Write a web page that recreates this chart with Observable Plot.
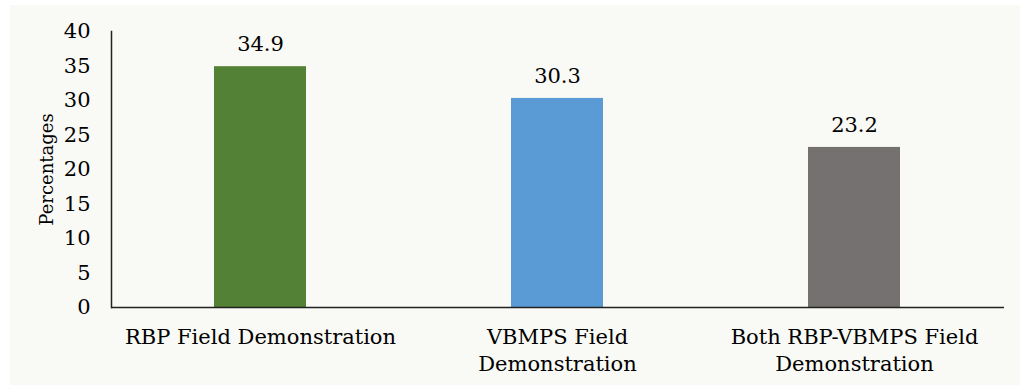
<!DOCTYPE html>
<html><head><meta charset="utf-8">
<script src="https://cdn.jsdelivr.net/npm/d3@7"></script>
<script src="https://cdn.jsdelivr.net/npm/@observablehq/plot@0.6"></script>
<style>
body{margin:0;background:#fff;}
#wrap{position:absolute;left:10px;top:5px;width:1010px;height:380px;background:#f9f9f5;}
#wrap svg, #wrap svg text{font-family:"DejaVu Serif", serif !important;}
#wrap svg{background:transparent;}
</style></head><body><div id="wrap"></div>
<script>
const categories = ["RBP Field Demonstration","VBMPS Field Demonstration","Both RBP-VBMPS Field Demonstration"];
const tickLabels = ["RBP Field Demonstration","VBMPS Field\nDemonstration","Both RBP-VBMPS Field\nDemonstration"];
const values = [34.9, 30.3, 23.2];
const colors = ["#538135","#5b9bd5","#767171"];
const yTicks = [0,5,10,15,20,25,30,35,40];

const data = categories.map((c,i)=>({cat:c, v:values[i], color:colors[i]}));
const font = "DejaVu Serif";
const fs = 21;
const chart = Plot.plot({
  width:1010, height:380,
  marginLeft:101, marginRight:16, marginTop:26, marginBottom:78,
  style:{fontFamily:font, fontSize:fs+"px", color:"#000", background:"transparent", overflow:"visible"},
  x:{domain:categories, paddingInner:0.69, paddingOuter:0.345},
  y:{domain:[0,40]},
  marks:[
    Plot.barY(data,{x:"cat", y:"v", fill:"color"}),
    Plot.text(data,{x:"cat", y:"v", text:d=>d.v.toFixed(1), dy:-22, fontSize:fs, fontFamily:font, fill:"#000"}),
    Plot.axisY({ticks:yTicks, tickSize:0, tickPadding:21, fontSize:fs, fontFamily:font, label:null}),
    Plot.axisY({ticks:[], tickSize:0, fontSize:18, fontFamily:font, label:"Percentages", labelAnchor:"center", labelArrow:"none", labelOffset:71}),
    Plot.axisX({tickSize:0, tickPadding:17, fontSize:fs, fontFamily:font, tickFormat:(d)=>tickLabels[categories.indexOf(d)], lineHeight:1.29, label:null}),
    Plot.ruleY([0],{stroke:"#222", strokeWidth:1.5}),
    Plot.frame({anchor:"left", stroke:"#222", strokeWidth:1.5})
  ]
});
document.getElementById("wrap").appendChild(chart);
</script></body></html>
